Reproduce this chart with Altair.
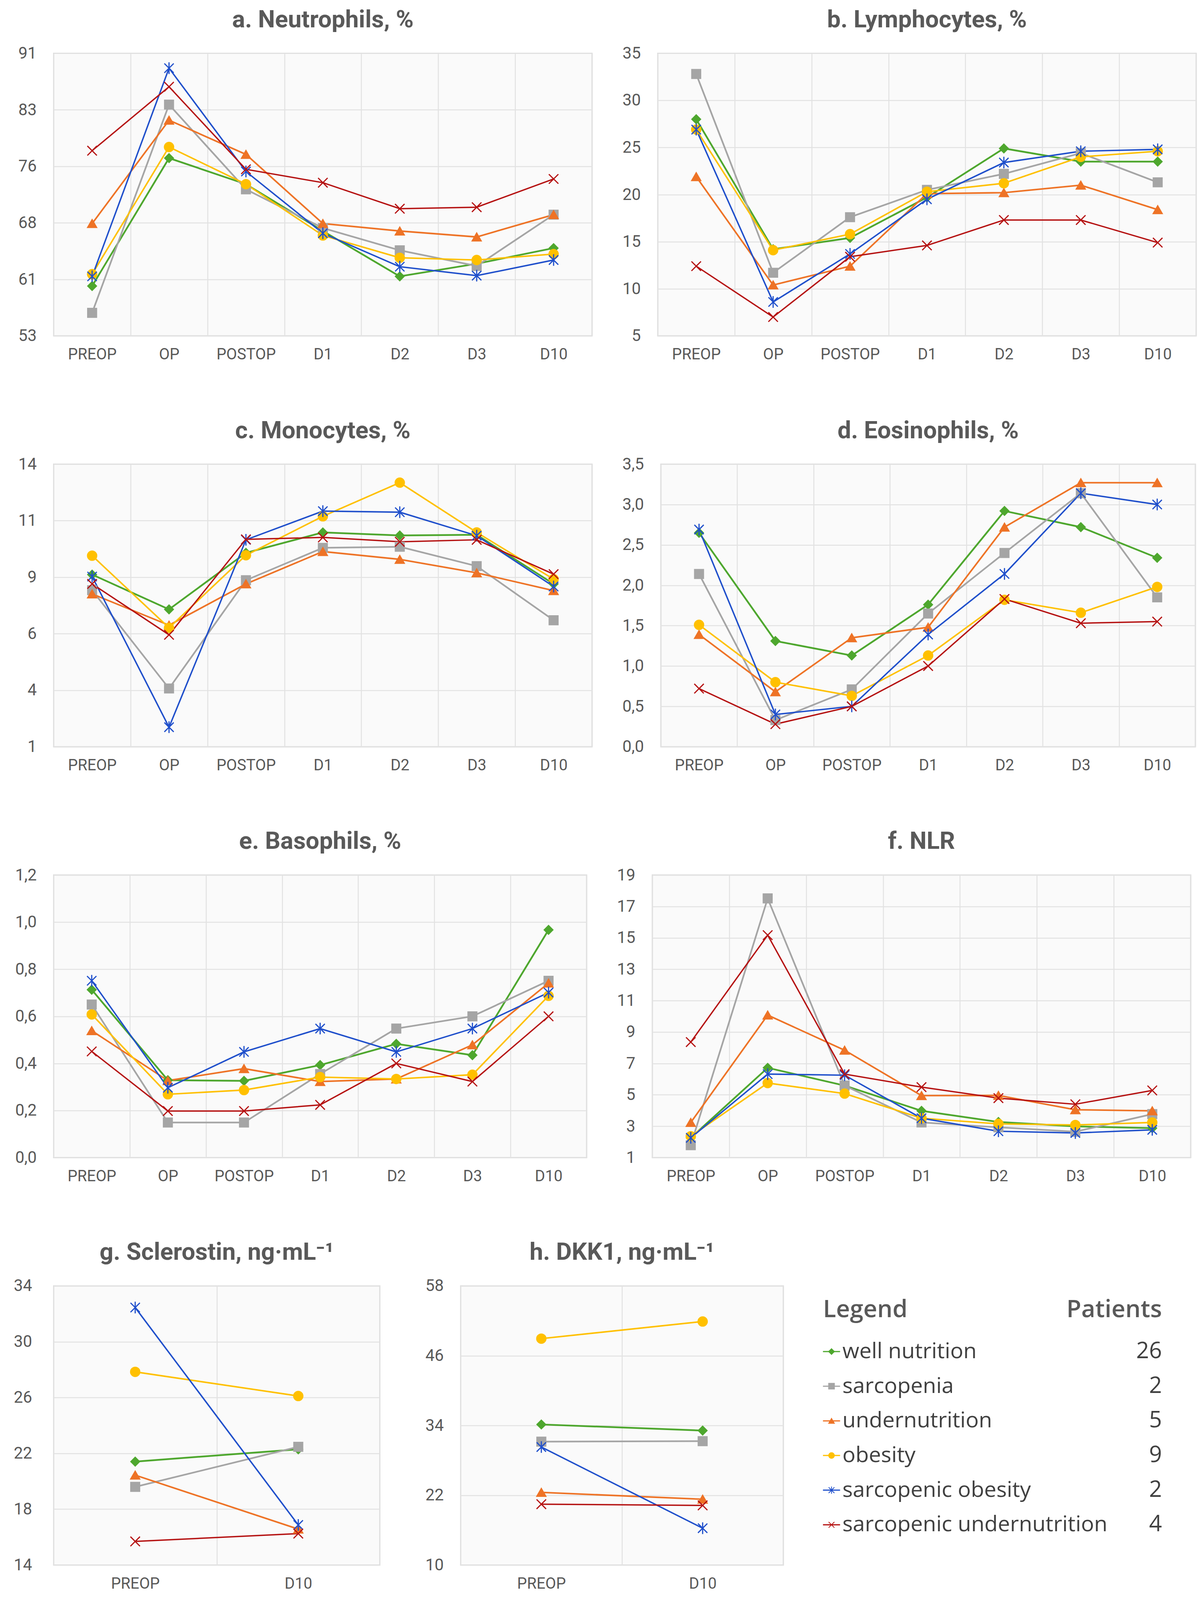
import altair as alt
import pandas as pd

SERIES = ["well nutrition", "sarcopenia", "undernutrition", "obesity",
          "sarcopenic obesity", "sarcopenic undernutrition"]
PATIENTS = [26, 2, 5, 9, 2, 4]
COLORS = ["#4EA72E", "#A5A5A5", "#EE7326", "#FFC000", "#1F4FCB", "#B51212"]
TIMES = ["PREOP", "OP", "POSTOP", "D1", "D2", "D3", "D10"]
TIMES2 = ["PREOP", "D10"]

# values per series, in SERIES order
NEUTROPHILS = [
    [59.7, 76.9, 73.4, 67.1, 61.0, 62.7, 64.8],
    [56.1, 84.1, 72.7, 67.5, 64.5, 62.4, 69.3],
    [68.1, 82.0, 77.4, 68.1, 67.1, 66.3, 69.3],
    [61.3, 78.4, 73.4, 66.5, 63.5, 63.2, 64.0],
    [61.0, 89.0, 75.1, 66.8, 62.3, 61.1, 63.2],
    [77.9, 86.5, 75.4, 73.6, 70.1, 70.3, 74.1],
]
LYMPHOCYTES = [
    [28.0, 14.2, 15.4, 19.7, 24.9, 23.5, 23.5],
    [32.8, 11.7, 17.6, 20.5, 22.2, 24.4, 21.3],
    [21.9, 10.4, 12.4, 20.1, 20.2, 21.0, 18.4],
    [26.9, 14.1, 15.8, 20.3, 21.2, 24.0, 24.6],
    [26.9, 8.6, 13.7, 19.5, 23.4, 24.6, 24.8],
    [12.4, 7.0, 13.4, 14.6, 17.3, 17.3, 14.9],
]
MONOCYTES = [
    [8.92, 7.32, 9.92, 10.86, 10.72, 10.75, 8.49],
    [8.20, 3.68, 8.66, 10.15, 10.20, 9.31, 6.82],
    [8.03, 6.59, 8.49, 9.98, 9.62, 9.00, 8.18],
    [9.79, 6.47, 9.81, 11.60, 13.15, 10.86, 8.71],
    [8.83, 1.90, 10.52, 11.84, 11.79, 10.71, 8.37],
    [8.49, 6.15, 10.54, 10.63, 10.43, 10.52, 8.94],
]
EOSINOPHILS = [
    [2.65, 1.31, 1.13, 1.76, 2.92, 2.72, 2.34],
    [2.14, 0.33, 0.71, 1.65, 2.40, 3.14, 1.85],
    [1.39, 0.68, 1.35, 1.48, 2.72, 3.27, 3.27],
    [1.51, 0.80, 0.63, 1.13, 1.82, 1.66, 1.98],
    [2.69, 0.40, 0.50, 1.39, 2.14, 3.14, 3.00],
    [0.72, 0.28, 0.50, 1.00, 1.83, 1.53, 1.55],
]
BASOPHILS = [
    [0.713, 0.329, 0.326, 0.393, 0.483, 0.435, 0.967],
    [0.650, 0.149, 0.149, 0.355, 0.548, 0.600, 0.751],
    [0.539, 0.327, 0.378, 0.323, 0.334, 0.479, 0.741],
    [0.608, 0.269, 0.287, 0.342, 0.334, 0.352, 0.687],
    [0.751, 0.297, 0.449, 0.548, 0.449, 0.548, 0.701],
    [0.451, 0.198, 0.198, 0.224, 0.400, 0.323, 0.600],
]
NLR = [
    [2.26, 6.72, 5.59, 3.98, 3.27, 2.99, 2.88],
    [1.79, 17.51, 5.59, 3.24, 2.93, 2.65, 3.77],
    [3.24, 10.08, 7.84, 4.95, 4.96, 4.05, 3.98],
    [2.36, 5.75, 5.08, 3.51, 3.15, 3.08, 3.24],
    [2.26, 6.32, 6.25, 3.51, 2.68, 2.57, 2.77],
    [8.36, 15.17, 6.32, 5.49, 4.79, 4.40, 5.28],
]
SCLEROSTIN = [
    [21.41, 22.29],
    [19.60, 22.47],
    [20.44, 16.57],
    [27.84, 26.11],
    [32.45, 16.87],
    [15.69, 16.25],
]
DKK1 = [
    [34.17, 33.12],
    [31.22, 31.30],
    [22.49, 21.31],
    [48.93, 51.88],
    [30.29, 16.33],
    [20.46, 20.25],
]

ASTER = "M-1,-1L1,1M-1,1L1,-1M0,-1.25L0,1.25"
XMARK = "M-1,-1L1,1M-1,1L1,-1"
SHAPES = ["diamond", "square", "triangle-up", "circle", ASTER, XMARK]
SIZES = [500, 600, 560, 640, 740, 740]
WIDTHS = [4.5, 3.5, 4.5, 4.5, 4, 4.5]

TXT = "#595959"
FONT = "Roboto"


def long_df(rows, times):
    recs = []
    for s, vals in zip(SERIES, rows):
        for t, v in zip(times, vals):
            recs.append({"series": s, "t": t, "v": v})
    return pd.DataFrame(recs)


def panel(title, rows, times, yvals, ydom, comma, w, h, lpad=44):
    df = long_df(rows, times)
    if comma:
        lexpr = "replace(format(datum.value, '.1f'), '.', ',')"
    else:
        lexpr = "format(datum.value, '.0f')"
    x = alt.X("t:N", sort=times,
              scale=alt.Scale(type="band", paddingInner=0, paddingOuter=0),
              axis=alt.Axis(title=None, tickBand="extent", grid=True,
                            gridColor="#E2E2E2", gridWidth=2.5, ticks=False,
                            domain=False, labelAngle=0, labelPadding=28,
                            labelFontSize=40, labelColor=TXT, labelFont=FONT))
    y = alt.Y("v:Q", scale=alt.Scale(domain=ydom, nice=False, zero=False),
              axis=alt.Axis(title=None, values=yvals, labelExpr=lexpr,
                            grid=True, gridColor="#E2E2E2", gridWidth=2.5,
                            ticks=False, domain=False, labelPadding=lpad,
                            labelFontSize=42, labelColor=TXT, labelFont=FONT))
    col = alt.Color("series:N", scale=alt.Scale(domain=SERIES, range=COLORS), legend=None)
    base = alt.Chart(df).encode(x=x, y=y, color=col, detail="series:N")
    lines = base.mark_line().encode(
        strokeWidth=alt.StrokeWidth("series:N", scale=alt.Scale(domain=SERIES, range=WIDTHS), legend=None),
        order=alt.Order("o:Q"),
    ).transform_calculate(o="indexof(" + str(times) + ", datum.t)")
    pts = base.mark_point(filled=True, opacity=1, strokeWidth=3).encode(
        stroke=alt.Stroke("series:N", scale=alt.Scale(domain=SERIES, range=COLORS), legend=None),
        shape=alt.Shape("series:N", scale=alt.Scale(domain=SERIES, range=SHAPES), legend=None),
        size=alt.Size("series:N", scale=alt.Scale(domain=SERIES, range=SIZES), legend=None),
    )
    return alt.layer(lines, pts).properties(
        width=w, height=h,
        title=alt.TitleParams(title, fontSize=62, font=FONT, fontWeight="bold",
                              color=TXT, offset=33, frame="group"),
    )


W, H = 1385, 727
pa = panel("a. Neutrophils, %", NEUTROPHILS, TIMES, [53, 60.6, 68.2, 75.8, 83.4, 91], [53, 91], False, W, H)
pb = panel("b. Lymphocytes, %", LYMPHOCYTES, TIMES, [5, 10, 15, 20, 25, 30, 35], [5, 35], False, W, H)
pc = panel("c. Monocytes, %", MONOCYTES, TIMES, [1, 3.6, 6.2, 8.8, 11.4, 14], [1, 14], False, W, H)
pd_ = panel("d. Eosinophils, %", EOSINOPHILS, TIMES, [0, 0.5, 1, 1.5, 2, 2.5, 3, 3.5], [0, 3.5], True, W - 10, H)
pe = panel("e. Basophils, %", BASOPHILS, TIMES, [0, 0.2, 0.4, 0.6, 0.8, 1.0, 1.2], [0, 1.2], True, W - 14, H)
pf = panel("f. NLR", NLR, TIMES, [1, 3, 5, 7, 9, 11, 13, 15, 17, 19], [1, 19], False, W, H)
pg = panel("g. Sclerostin, ng·mL⁻¹", SCLEROSTIN, TIMES2, [14, 18, 22, 26, 30, 34], [14, 34], False, 839, 718, lpad=56)
ph = panel("h. DKK1, ng·mL⁻¹", DKK1, TIMES2, [10, 22, 34, 46, 58], [10, 58], False, 830, 718)

# legend block
leg_df = pd.DataFrame({"series": SERIES, "n": [str(p) for p in PATIENTS],
                       "rank": list(range(1, len(SERIES) + 1))})
hdr_df = pd.DataFrame({"a": ["Legend"], "b": ["Patients"], "rank": [-0.21]})
ly = alt.Y("rank:Q", scale=alt.Scale(domain=[-0.895, 7.16], reverse=True, nice=False, zero=False), axis=None)
LW = 880
lcol = alt.Color("series:N", scale=alt.Scale(domain=SERIES, range=COLORS), legend=None)
seg = alt.Chart(leg_df).mark_rule(strokeWidth=3).encode(
    y=ly, x=alt.value(8), x2=alt.value(52), color=lcol)
lpt = alt.Chart(leg_df).mark_point(filled=True, opacity=1, strokeWidth=2).encode(
    y=ly, x=alt.value(30), color=lcol,
    stroke=alt.Stroke("series:N", scale=alt.Scale(domain=SERIES, range=COLORS), legend=None),
    shape=alt.Shape("series:N", scale=alt.Scale(domain=SERIES, range=SHAPES), legend=None),
    size=alt.value(220))
ltxt = alt.Chart(leg_df).mark_text(align="left", baseline="middle", fontSize=56,
                                   font="Open Sans", color="#404040").encode(
    y=ly, x=alt.value(58), text="series:N")
lnum = alt.Chart(leg_df).mark_text(align="right", baseline="middle", fontSize=58,
                                   font="Open Sans", color="#404040").encode(
    y=ly, x=alt.value(LW), text="n:N")
h1 = alt.Chart(hdr_df).mark_text(align="left", baseline="middle", fontSize=62,
                                 font="Open Sans", fontWeight=600, color=TXT).encode(
    y=ly, x=alt.value(8), text="a:N")
h2 = alt.Chart(hdr_df).mark_text(align="right", baseline="middle", fontSize=62,
                                 font="Open Sans", fontWeight=600, color=TXT).encode(
    y=ly, x=alt.value(LW), text="b:N")
legend = alt.layer(seg, lpt, ltxt, lnum, h1, h2).properties(
    width=LW, height=718,
    view=alt.ViewBackground(stroke="transparent", fill="transparent"))

row1 = alt.hconcat(pa, pb, spacing=74)
row2 = alt.hconcat(pc, pd_, spacing=74)
row3 = alt.hconcat(pe, pf, spacing=74)
row4 = alt.hconcat(alt.hconcat(pg, ph, spacing=113), legend, spacing=90)

chart = alt.vconcat(row1, row2, row3, row4, spacing=141).properties(
    padding={"left": 25, "top": 0, "right": 5, "bottom": 5},
    background="white",
).configure_view(fill="#FAFAFA", stroke="#D9D9D9", strokeWidth=3)

chart.save("out.html", embed_options={"renderer": "svg", "actions": False})
